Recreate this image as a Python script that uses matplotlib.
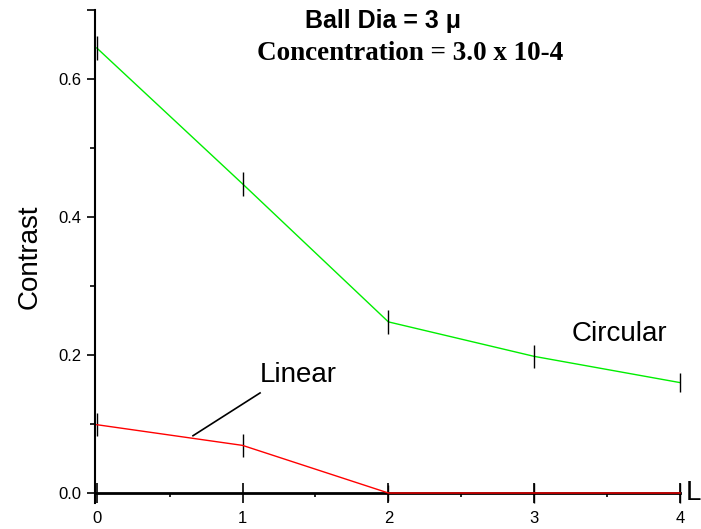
import matplotlib
matplotlib.use("Agg")
import matplotlib.pyplot as plt
from matplotlib.ticker import FixedLocator

L = [0, 1, 2, 3, 4]
circular = [0.645, 0.448, 0.248, 0.198, 0.160]
circular_err = [0.017, 0.017, 0.017, 0.017, 0.014]
linear = [0.099, 0.069, 0.0, 0.0, 0.0]
linear_err = [0.017, 0.017, 0.012, 0.014, 0.014]
yticks = [0.0, 0.2, 0.4, 0.6, 0.7]
yticklabels = ["0.0", "0.2", "0.4", "0.6", ""]

plt.rcParams['font.family'] = ['Liberation Sans', 'DejaVu Sans']

fig = plt.figure(figsize=(7.01, 5.29), dpi=100)
ax = fig.add_axes([95/701, 26/529, 585/701, 493/529])

ax.plot(L, circular, color='#00ee00', lw=1, zorder=3, clip_on=False)
ax.errorbar(L, circular, yerr=circular_err, fmt='none', ecolor='black', elinewidth=1,
            capsize=0, zorder=4, clip_on=False)
ax.plot(L, linear, color='red', lw=1, zorder=5, clip_on=False)
ax.errorbar(L, linear, yerr=linear_err, fmt='none', ecolor='black', elinewidth=1,
            capsize=0, zorder=4, clip_on=False)

ax.set_xlim(-0.012, 4.0)
ax.set_ylim(-0.0145, 0.7)

for s in ['top', 'right']:
    ax.spines[s].set_visible(False)
ax.spines['bottom'].set_position(('data', 0))
ax.spines['left'].set_linewidth(1.5)
ax.spines['bottom'].set_linewidth(2)

ax.set_xticks(L)
ax.set_xticklabels([str(v) for v in L])
ax.xaxis.set_minor_locator(FixedLocator([0.5, 1.5, 2.5, 3.5]))
ax.set_yticks(yticks)
ax.set_yticklabels(yticklabels)
ax.yaxis.set_minor_locator(FixedLocator([0.1, 0.3, 0.5]))

ax.tick_params(axis='x', which='major', direction='inout', length=14, width=1.2, labelsize=12, pad=6)
ax.tick_params(axis='x', which='minor', direction='out', length=3, width=1.2)
ax.tick_params(axis='y', which='major', direction='out', length=6, width=1.2, labelsize=12, pad=4)
ax.tick_params(axis='y', which='minor', direction='out', length=3.5, width=1.2)

ax.set_ylabel('Contrast', fontsize=20)
ax.yaxis.set_label_coords(-0.090, 0.5)

ax.text(4.04, 0.0, 'L', fontsize=20, va='center', ha='left')
ax.text(3.26, 0.212, 'Circular', fontsize=20, ha='left', va='bottom')
ax.text(1.12, 0.152, 'Linear', fontsize=20, ha='left', va='bottom')
ax.plot([0.66, 1.12], [0.083, 0.145], color='black', lw=1.2)

fig.text(383/701, 1 - 21/529, 'Ball Dia = 3 \u03bc', fontsize=18, fontweight='bold',
         ha='center', va='center', family=['Liberation Sans', 'DejaVu Sans'])
fig.text(410/701, 1 - 54/529, 'Concentration = 3.0 x 10-4', fontsize=19.5, fontweight='bold',
         ha='center', va='center', family=['Liberation Serif', 'DejaVu Serif'])

fig.savefig('out.png', dpi=100)
